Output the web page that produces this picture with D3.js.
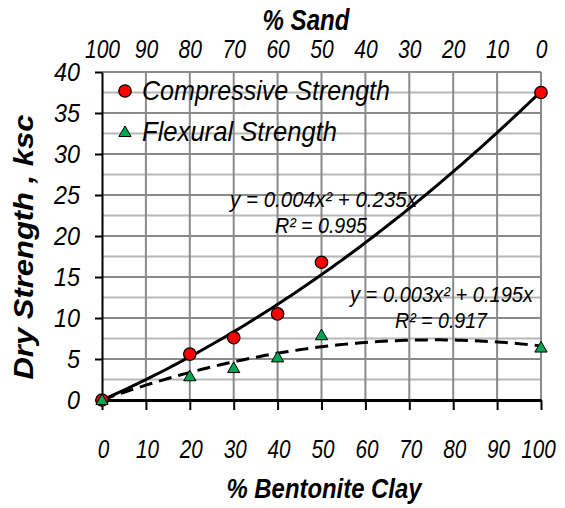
<!DOCTYPE html>
<html><head><meta charset="utf-8">
<script src="https://cdn.jsdelivr.net/npm/d3@7"></script>
<style>
body{margin:0;background:#fff;}
text{font-family:"Liberation Sans",Arial,sans-serif;font-style:italic;fill:#000;}
</style></head>
<body><svg id="c" width="565" height="508"></svg>
<script>
const clay = [0, 20, 30, 40, 50, 100];
const compressive = [0, 5.6, 7.6, 10.5, 16.8, 37.5];
const flexural = [0, 2.9, 3.9, 5.2, 7.9, 6.4];
const xTicks = [0,10,20,30,40,50,60,70,80,90,100];
const yTicks = [0,5,10,15,20,25,30,35,40];
const sandTicks = [100,90,80,70,60,50,40,30,20,10,0];
const eq1 = ["y = 0.004x² + 0.235x", "R² = 0.995"];
const eq2 = ["y = 0.003x² + 0.195x", "R² = 0.917"];
const legendNames = ["Compressive Strength", "Flexural Strength"];

const svg = d3.select("#c");
const L=102, R=541, T=72, B=400;
const x = d3.scaleLinear().domain([0,100]).range([L,R]);
const xs = d3.scaleLinear().domain([100,0]).range([L,R]);
const y = d3.scaleLinear().domain([0,40]).range([B,T]);

function txt(sel, s, size, len, weight){
  sel.text(s).attr("font-size",size).attr("font-family",null)
    .attr("textLength",len).attr("lengthAdjust","spacingAndGlyphs");
  if(weight) sel.attr("font-weight",weight);
  return sel;
}

// grid
const hMinor = d3.range(0, 40.01, 2.5);
svg.append("g").selectAll("line").data(hMinor).join("line")
  .attr("x1",L).attr("x2",R).attr("y1",d=>y(d)).attr("y2",d=>y(d))
  .attr("stroke",d=>d%5===0?"#8a8a8a":"#b8b8b8").attr("stroke-width",2);
svg.append("g").selectAll("line").data(xTicks.slice(1)).join("line")
  .attr("x1",d=>x(d)).attr("x2",d=>x(d)).attr("y1",T).attr("y2",B)
  .attr("stroke","#8a8a8a").attr("stroke-width",2);

// axes
const xa = svg.append("g").attr("transform",`translate(0,${B})`)
  .call(d3.axisBottom(x).tickValues(xTicks).tickSize(10).tickSizeOuter(0).tickFormat(d3.format("d")));
xa.select(".domain").attr("stroke","#000").attr("stroke-width",3);
xa.selectAll(".tick line").attr("stroke","#000").attr("stroke-width",2);
xa.selectAll(".tick text").each(function(d){
  const s=String(d); txt(d3.select(this).attr("y",58).attr("dy",null).attr("x",d===100?-3:1), s, 25, s.length*11.5);
});

const ya = svg.append("g").attr("transform",`translate(${L},0)`)
  .call(d3.axisLeft(y).tickValues(yTicks).tickSize(7).tickSizeOuter(0));
ya.select(".domain").attr("stroke","#000").attr("stroke-width",2);
ya.selectAll(".tick line").attr("stroke","#000").attr("stroke-width",2);
ya.selectAll(".tick text").each(function(d){
  const s=String(d); txt(d3.select(this).attr("x",-22).attr("dy",null).attr("y",8.5), s, 25, s.length*13);
});

const ta = svg.append("g").attr("transform",`translate(0,${T})`)
  .call(d3.axisTop(xs).tickValues(sandTicks).tickSize(0).tickFormat(d3.format("d")));
ta.select(".domain").remove();
ta.selectAll(".tick text").each(function(d){
  const s=String(d); txt(d3.select(this).attr("y",-14).attr("dy",null).attr("x",0), s, 25, s.length*11.7);
});
svg.selectAll(".tick text").attr("fill","#000");

// titles
txt(svg.append("text").attr("x",306).attr("y",30).attr("text-anchor","middle"), "% Sand", 29, 87, "bold");
txt(svg.append("text").attr("x",324).attr("y",498).attr("text-anchor","middle"), "% Bentonite Clay", 28, 195, "bold");
txt(svg.append("text").attr("transform","translate(33,247) rotate(-90)").attr("text-anchor","middle"), "Dry Strength , ksc", 28, 265, "bold");

// least-squares quadratic through origin (trendline fitted to the data)
function fit(xv, yv){
  let s4=0,s3=0,s2=0,sx2y=0,sxy=0;
  xv.forEach((a,i)=>{s4+=a**4;s3+=a**3;s2+=a*a;sx2y+=a*a*yv[i];sxy+=a*yv[i];});
  const det=s4*s2-s3*s3;
  return {a:(sx2y*s2-s3*sxy)/det, b:(s4*sxy-s3*sx2y)/det};
}
const f1=fit(clay,compressive), f2=fit(clay,flexural);
const xs2=d3.range(0,100.01,1);
const line=d3.line().x(d=>x(d[0])).y(d=>y(d[1]));
svg.append("path").attr("d",line(xs2.map(v=>[v,f1.a*v*v+f1.b*v])))
  .attr("fill","none").attr("stroke","#000").attr("stroke-width",3);
svg.append("path").attr("d",line(xs2.map(v=>[v,f2.a*v*v+f2.b*v])))
  .attr("fill","none").attr("stroke","#000").attr("stroke-width",3).attr("stroke-dasharray","13,7");

// markers
const tri = d3.symbol().type(d3.symbolTriangle).size(65);
svg.append("g").selectAll("circle").data(clay).join("circle")
  .attr("cx",d=>x(d)).attr("cy",(d,i)=>y(compressive[i])).attr("r",6.2)
  .attr("fill","#ff0000").attr("stroke","#000").attr("stroke-width",1.3);
svg.append("g").selectAll("path").data(clay).join("path")
  .attr("d",tri).attr("transform",(d,i)=>`translate(${x(d)},${y(flexural[i])+1})`)
  .attr("fill","#00a651").attr("stroke","#000").attr("stroke-width",1);

// legend
svg.append("circle").attr("cx",125).attr("cy",91).attr("r",6.2)
  .attr("fill","#ff0000").attr("stroke","#000").attr("stroke-width",1.3);
txt(svg.append("text").attr("x",142).attr("y",100), legendNames[0], 28, 248);
svg.append("path").attr("d",tri).attr("transform","translate(125,133)")
  .attr("fill","#00a651").attr("stroke","#000").attr("stroke-width",1);
txt(svg.append("text").attr("x",142).attr("y",141), legendNames[1], 28, 195);

// equations
txt(svg.append("text").attr("x",230).attr("y",207), eq1[0], 22, 187);
txt(svg.append("text").attr("x",275).attr("y",233), eq1[1], 22, 92);
txt(svg.append("text").attr("x",350).attr("y",302), eq2[0], 22, 183);
txt(svg.append("text").attr("x",395).attr("y",328), eq2[1], 22, 92);
</script></body></html>
